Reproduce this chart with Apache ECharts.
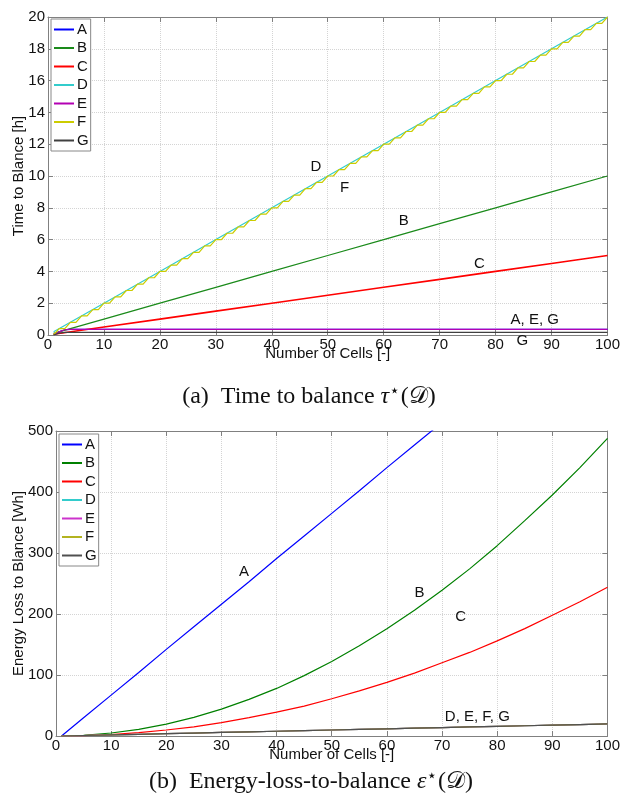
<!DOCTYPE html>
<html>
<head>
<meta charset="utf-8">
<script src="https://cdn.jsdelivr.net/npm/echarts@6/dist/echarts.min.js"></script>
<style>
  html, body { margin: 0; padding: 0; background: #fff; }
  #main { width: 623px; height: 808px; }
</style>
</head>
<body>
<div id="main"></div>
<script>
// data

var xTicks = [0, 10, 20, 30, 40, 50, 60, 70, 80, 90, 100];
var tauTicks = [0, 2, 4, 6, 8, 10, 12, 14, 16, 18, 20];
var epsTicks = [0, 100, 200, 300, 400, 500];

// (a) time to balance [h]
var cellsTau = [1, 10, 20, 30, 40, 50, 60, 70, 80, 90, 100];
var tauB = [0.1, 1, 2, 3, 4, 5, 6, 7, 8, 9, 10];
var tauC = [0.05, 0.5, 1, 1.5, 2, 2.5, 3, 3.5, 4, 4.5, 5];
var tauD = [0.2, 2, 4, 6, 8, 10, 12, 14, 16, 18, 20];

var cellsLow = [1, 2, 3, 4, 10, 20, 30, 40, 50, 60, 70, 80, 90, 100];
var tauA = [0, 0.2, 0.33, 0.35, 0.35, 0.35, 0.35, 0.35, 0.35, 0.35, 0.35, 0.35, 0.35, 0.35];
var tauE = [0, 0.2, 0.33, 0.35, 0.35, 0.35, 0.35, 0.35, 0.35, 0.35, 0.35, 0.35, 0.35, 0.35];
var tauG = [0, 0.12, 0.16, 0.17, 0.17, 0.17, 0.17, 0.17, 0.17, 0.17, 0.17, 0.17, 0.17, 0.17];

var cellsAll = [1, 2, 3, 4, 5, 6, 7, 8, 9, 10, 11, 12, 13, 14, 15, 16, 17, 18, 19, 20,
  21, 22, 23, 24, 25, 26, 27, 28, 29, 30, 31, 32, 33, 34, 35, 36, 37, 38, 39, 40,
  41, 42, 43, 44, 45, 46, 47, 48, 49, 50, 51, 52, 53, 54, 55, 56, 57, 58, 59, 60,
  61, 62, 63, 64, 65, 66, 67, 68, 69, 70, 71, 72, 73, 74, 75, 76, 77, 78, 79, 80,
  81, 82, 83, 84, 85, 86, 87, 88, 89, 90, 91, 92, 93, 94, 95, 96, 97, 98, 99, 100];
var tauF = [0, 0.4, 0.4, 0.8, 0.8, 1.2, 1.2, 1.6, 1.6, 2, 2, 2.4, 2.4, 2.8, 2.8, 3.2, 3.2, 3.6, 3.6, 4,
  4, 4.4, 4.4, 4.8, 4.8, 5.2, 5.2, 5.6, 5.6, 6, 6, 6.4, 6.4, 6.8, 6.8, 7.2, 7.2, 7.6, 7.6, 8,
  8, 8.4, 8.4, 8.8, 8.8, 9.2, 9.2, 9.6, 9.6, 10, 10, 10.4, 10.4, 10.8, 10.8, 11.2, 11.2, 11.6, 11.6, 12,
  12, 12.4, 12.4, 12.8, 12.8, 13.2, 13.2, 13.6, 13.6, 14, 14, 14.4, 14.4, 14.8, 14.8, 15.2, 15.2, 15.6, 15.6, 16,
  16, 16.4, 16.4, 16.8, 16.8, 17.2, 17.2, 17.6, 17.6, 18, 18, 18.4, 18.4, 18.8, 18.8, 19.2, 19.2, 19.6, 19.6, 20];

// (b) energy loss to balance [Wh]
var cellsEps = [1, 5, 10, 15, 20, 25, 30, 35, 40, 45, 50, 55, 60, 65, 70, 75, 80, 85, 90, 95, 100];
var epsA = [0, 29.8, 67, 104, 142, 179, 216, 253, 291, 328, 365, 402, 440, 477, 514, 551, 589, 626, 663, 700, 738];
var epsB = [0, 1.2, 4.9, 11, 19.5, 30.5, 44, 60, 78, 99, 122, 148, 176, 206, 239, 274, 312, 353, 395, 440, 488];
var epsC = [0, 0.6, 2.4, 5.5, 9.8, 15, 22, 30, 39, 49, 61, 74, 88, 103, 120, 137, 156, 176, 198, 220, 244];
var epsDEFG = [0, 0.8, 1.8, 2.8, 3.8, 4.8, 5.8, 6.8, 7.8, 8.8, 9.8, 10.8, 11.8, 12.8, 13.8, 14.8, 15.8, 16.8, 17.8, 18.8, 19.8];

var names = ['A', 'B', 'C', 'D', 'E', 'F', 'G'];
var colorsTop = ['#0000ff', '#1a8a1a', '#ff0000', '#33cccc', '#b300b3', '#cccc00', '#404040'];
var colorsBot = ['#0000ff', '#008000', '#ff0000', '#33cccc', '#cc33cc', '#b3b320', '#505050'];

// text on the curves: [cells, value, text]
var labelsTop = [[47.9, 10.6, 'D'], [53, 9.25, 'F'], [63.6, 7.17, 'B'], [77.1, 4.47, 'C'],
  [87, 0.94, 'A, E, G'], [84.8, -0.38, 'G']];
var labelsBot = [[34.1, 269, 'A'], [65.9, 234, 'B'], [73.4, 195, 'C'], [76.4, 31, 'D, E, F, G']];

var font = 'Liberation Sans, Arial, sans-serif';
var serif = 'Liberation Serif, DejaVu Serif, serif';

function pairs(xs, ys) {
  return xs.map(function (x, i) { return [x, ys[i]]; });
}

function line(name, xs, ys, color, k, w) {
  return {
    name: name, type: 'line', xAxisIndex: 2 * k, yAxisIndex: 2 * k,
    data: pairs(xs, ys), symbol: 'none', showSymbol: false, clip: true,
    lineStyle: { color: color, width: w || 1.2 }, itemStyle: { color: color },
    emphasis: { disabled: true }, animation: false
  };
}

function xAxes(k) {
  var base = {
    type: 'value', gridIndex: k, min: xTicks[0], max: xTicks[xTicks.length - 1], interval: 10,
    axisLine: { show: true, onZero: false, lineStyle: { color: '#808080' } },
    axisTick: { show: true, inside: true, length: 5, lineStyle: { color: '#808080' } }
  };
  return [
    Object.assign({}, base, {
      position: 'bottom',
      axisLabel: { color: '#111', fontSize: 15, fontFamily: font, margin: 2 },
      splitLine: { show: true, lineStyle: { color: '#d4d4d4', type: 'dotted' } },
      name: 'Number of Cells [-]', nameLocation: 'middle', nameGap: 11, nameMoveOverlap: false,
      nameTextStyle: { color: '#111', fontSize: 15, fontFamily: font }
    }),
    Object.assign({}, base, { position: 'top', axisLabel: { show: false }, splitLine: { show: false } })
  ];
}

function yAxes(k, ticks, title, gap) {
  var base = {
    type: 'value', gridIndex: k, min: ticks[0], max: ticks[ticks.length - 1], interval: ticks[1] - ticks[0],
    axisLine: { show: true, onZero: false, lineStyle: { color: '#808080' } },
    axisTick: { show: true, inside: true, length: 5, lineStyle: { color: '#808080' } }
  };
  return [
    Object.assign({}, base, {
      position: 'left',
      axisLabel: { color: '#111', fontSize: 15, fontFamily: font, margin: 3 },
      splitLine: { show: true, lineStyle: { color: '#d4d4d4', type: 'dotted' } },
      name: title, nameLocation: 'middle', nameGap: gap, nameMoveOverlap: false,
      nameTextStyle: { color: '#111', fontSize: 15, fontFamily: font }
    }),
    Object.assign({}, base, { position: 'right', axisLabel: { show: false }, splitLine: { show: false } })
  ];
}

function legend(left, top, colors) {
  return {
    orient: 'vertical', left: left, top: top, icon: 'rect', itemWidth: 20, itemHeight: 2,
    itemGap: 3.5, padding: [3, 2, 3, 3], backgroundColor: '#fff',
    borderColor: '#888', borderWidth: 1, borderRadius: 0, selectedMode: false,
    textStyle: { color: '#111', fontSize: 15, lineHeight: 15, fontFamily: font, padding: [0, 0, 0, -2] },
    data: names.map(function (n, i) { return { name: n, itemStyle: { color: colors[i] } }; })
  };
}

var chart = echarts.init(document.getElementById('main'));

var series = [
  line('A', cellsLow, tauA, colorsTop[0], 0),
  line('B', cellsTau, tauB, colorsTop[1], 0),
  line('C', cellsTau, tauC, colorsTop[2], 0, 1.6),
  line('D', cellsTau, tauD, colorsTop[3], 0),
  line('E', cellsLow, tauE, colorsTop[4], 0),
  line('F', cellsAll, tauF, colorsTop[5], 0),
  line('G', cellsLow, tauG, colorsTop[6], 0),
  line('A', cellsEps, epsA, colorsBot[0], 1),
  line('B', cellsEps, epsB, colorsBot[1], 1),
  line('C', cellsEps, epsC, colorsBot[2], 1),
  line('D', cellsEps, epsDEFG, colorsBot[3], 1),
  line('E', cellsEps, epsDEFG, colorsBot[4], 1),
  line('F', cellsEps, epsDEFG, colorsBot[5], 1),
  line('G', cellsEps, epsDEFG, colorsBot[6], 1)
];

chart.setOption({
  animation: false,
  backgroundColor: '#fff',
  grid: [
    { left: 48, top: 17, width: 560, height: 318 },
    { left: 56, top: 431, width: 552, height: 305 }
  ],
  xAxis: xAxes(0).concat(xAxes(1)),
  yAxis: yAxes(0, tauTicks, 'Time to Blance [h]', 22).concat(yAxes(1, epsTicks, 'Energy Loss to Blance [Wh]', 30)),
  legend: [legend(51, 19, colorsTop), legend(59, 434, colorsBot)],
  series: series
});

// curve labels and captions
var graphics = [];
function addLabels(list, k) {
  list.forEach(function (l, i) {
    var p = chart.convertToPixel({ xAxisIndex: 2 * k, yAxisIndex: 2 * k }, [l[0], l[1]]);
    graphics.push({
      type: 'text', id: 'lab' + k + '_' + i, x: p[0], y: p[1], z: 100,
      style: { text: l[2], fill: '#111', font: '15px ' + font, align: 'center', verticalAlign: 'middle' }
    });
  });
}
addLabels(labelsTop, 0);
addLabels(labelsBot, 1);

var capRich = {
  i: { fontStyle: 'italic', fontSize: 24, fontFamily: serif },
  s: { fontSize: 17, fontFamily: 'DejaVu Sans, sans-serif', padding: [0, 1, 10, 0] },
  c: { fontStyle: 'italic', fontSize: 24, fontFamily: 'DejaVu Serif, serif' }
};
graphics.push({
  type: 'text', id: 'capA', x: 309, y: 397,
  style: { text: '(a)  Time to balance {i|τ}{s|⋆}(𝒟)', rich: capRich, fill: '#111',
    font: '24px ' + serif, align: 'center', verticalAlign: 'middle' }
});
graphics.push({
  type: 'text', id: 'capB', x: 311, y: 782,
  style: { text: '(b)  Energy-loss-to-balance {i|ε}{s|⋆}(𝒟)', rich: capRich, fill: '#111',
    font: '24px ' + serif, align: 'center', verticalAlign: 'middle' }
});

chart.setOption({ graphic: graphics });
</script>
</body>
</html>
